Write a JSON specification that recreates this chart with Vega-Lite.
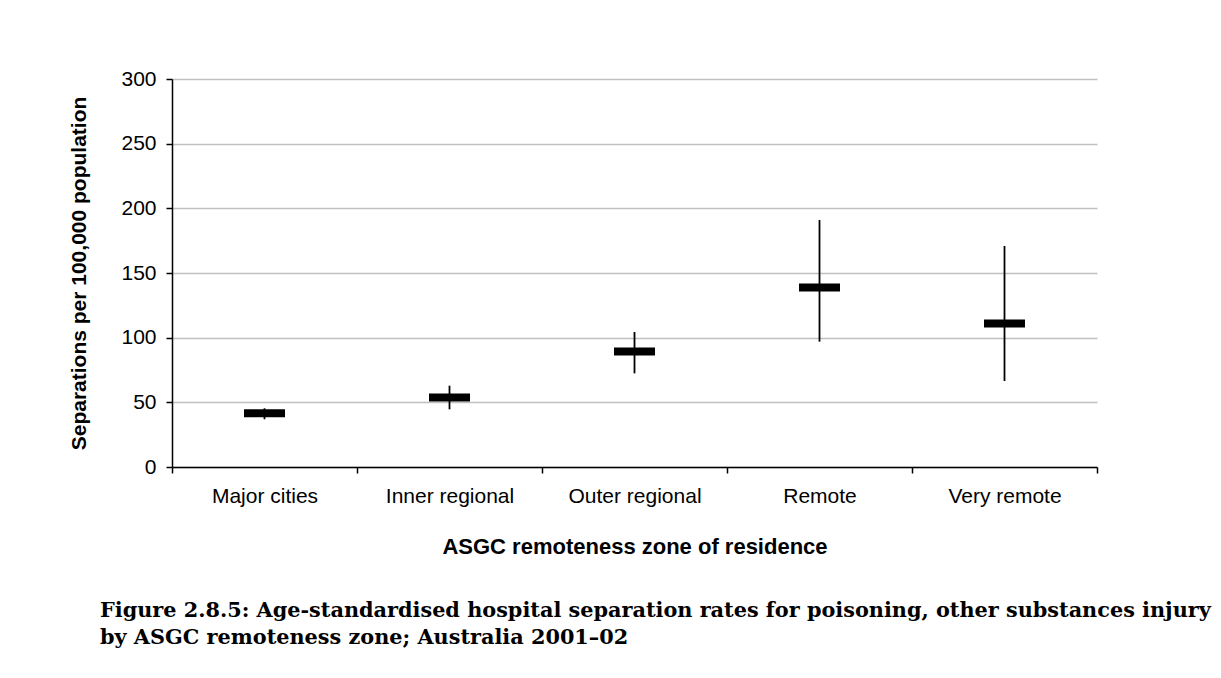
{
  "$schema": "https://vega.github.io/schema/vega-lite/v6.json",
  "autosize": "none",
  "width": 925,
  "height": 388,
  "padding": {"left": 172, "top": 79, "right": 124, "bottom": 211},
  "background": "white",
  "config": {
    "view": {"stroke": null},
    "font": "Liberation Sans",
    "axis": {"labelFont": "Liberation Sans", "titleFont": "Liberation Sans", "labelColor": "black", "titleColor": "black", "domainColor": "black", "tickColor": "black"}
  },
  "title": {
    "text": ["Figure 2.8.5: Age-standardised hospital separation rates for poisoning, other substances injury", "by ASGC remoteness zone; Australia 2001–02"],
    "orient": "bottom",
    "anchor": "start",
    "frame": "group",
    "dx": -72,
    "offset": 44,
    "font": "DejaVu Serif",
    "fontWeight": "bold",
    "fontSize": 20.8,
    "lineHeight": 27,
    "color": "black"
  },
  "data": {
    "values": [
      {"zone": "Major cities", "rate": 41.5, "low": 36.9, "high": 45.4},
      {"zone": "Inner regional", "rate": 53.7, "low": 44.6, "high": 62.9},
      {"zone": "Outer regional", "rate": 89.3, "low": 72.4, "high": 104.4},
      {"zone": "Remote", "rate": 138.8, "low": 96.9, "high": 191},
      {"zone": "Very remote", "rate": 111, "low": 66.5, "high": 170.9}
    ]
  },
  "encoding": {
    "x": {
      "field": "zone",
      "type": "nominal",
      "sort": null,
      "scale": {"paddingInner": 0, "paddingOuter": 0},
      "axis": {
        "title": "ASGC remoteness zone of residence",
        "titleFontSize": 22,
        "titleFontWeight": "bold",
        "titleY": 79,
        "titleBaseline": "middle",
        "labelAngle": 0,
        "labelFontSize": 21,
        "labelPadding": 12,
        "tickBand": "extent",
        "tickSize": 6,
        "domainWidth": 1.5,
        "tickWidth": 1.5,
        "grid": false
      }
    }
  },
  "layer": [
    {
      "mark": {"type": "rule", "color": "black", "strokeWidth": 1.8},
      "encoding": {
        "y": {
          "field": "low",
          "type": "quantitative",
          "scale": {"domain": [0, 300]},
          "axis": {
            "title": "Separations per 100,000 population",
            "titleFontSize": 21,
            "titleFontWeight": "bold",
            "titleX": -93,
            "titleY": 194,
            "titleAngle": -90,
            "titleAlign": "center",
            "titleBaseline": "middle",
            "values": [0, 50, 100, 150, 200, 250, 300],
            "labelFontSize": 21,
            "labelPadding": 10,
            "tickSize": 6,
            "tickWidth": 1.5,
            "domainWidth": 1.5,
            "grid": true,
            "gridColor": "#c0c0c0",
            "gridWidth": 1.5
          }
        },
        "y2": {"field": "high"}
      }
    },
    {
      "mark": {"type": "tick", "color": "black", "size": 41, "thickness": 8, "opacity": 1},
      "encoding": {
        "y": {"field": "rate", "type": "quantitative"}
      }
    }
  ]
}
